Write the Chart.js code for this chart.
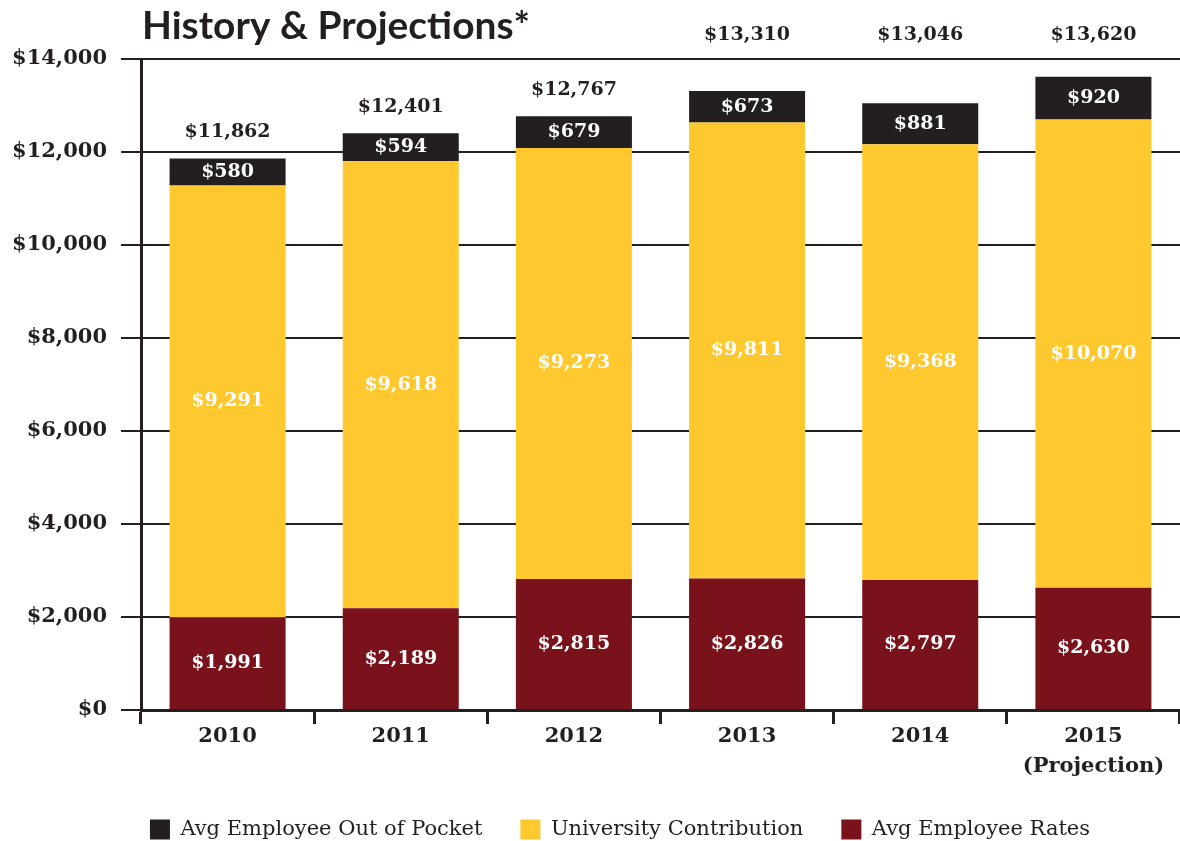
<!DOCTYPE html>
<html>
<head>
<meta charset="utf-8">
<title>History & Projections</title>
<script src="https://cdn.jsdelivr.net/npm/chart.js@4/dist/chart.umd.min.js"></script>
<style>
    html, body { margin: 0; padding: 0; background: #fff; overflow: hidden; }
    #grafico { display: block; }
</style>
</head>
<body>
<canvas id="grafico" width="1180" height="841"></canvas>
<script>
var anos = ['2010', '2011', '2012', '2013', '2014', ['2015', '(Projection)']];
var taxasEmpregado = [1991, 2189, 2815, 2826, 2797, 2630];
var contribuicaoUniversidade = [9291, 9618, 9273, 9811, 9368, 10070];
var foraDoBolso = [580, 594, 679, 673, 881, 920];
var totais = [11862, 12401, 12767, 13310, 13046, 13620];
var ticksY = [0, 2000, 4000, 6000, 8000, 10000, 12000, 14000];

var corTexto = '#231f20';
var fonteSerif = '"DejaVu Serif", "Liberation Serif", serif';

function dinheiro(v) {
    return '$' + v.toLocaleString('en-US');
}

// titulo e rotulos dos valores
var rotulos = {
    id: 'rotulos',
    afterLayout: function(chart) {
        // legenda um pouco deslocada para a direita, como no original
        chart.legend.left += 30;
        chart.legend.right += 30;
    },
    afterDraw: function(chart) {
        var ctx = chart.ctx;
        var area = chart.chartArea;

        ctx.save();
        ctx.font = 'bold 36px Lato, "Open Sans", sans-serif';
        ctx.fillStyle = corTexto;
        ctx.textAlign = 'left';
        ctx.textBaseline = 'alphabetic';
        var titulo = 'History & Projections*';
        var largura = ctx.measureText(titulo).width;
        ctx.translate(142, 39);
        ctx.scale(388 / largura, 1.05);
        ctx.fillText(titulo, 0, 0);
        ctx.restore();

        ctx.save();
        ctx.textAlign = 'center';
        ctx.textBaseline = 'middle';
        ctx.font = 'bold 19px ' + fonteSerif;
        chart.data.datasets.forEach(function(ds, i) {
            var meta = chart.getDatasetMeta(i);
            meta.data.forEach(function(barra, j) {
                ctx.fillStyle = '#ffffff';
                ctx.fillText(dinheiro(ds.data[j]), barra.x, (barra.y + barra.base) / 2);
            });
        });

        var topo = chart.getDatasetMeta(chart.data.datasets.length - 1);
        ctx.fillStyle = corTexto;
        topo.data.forEach(function(barra, j) {
            var y = barra.y - 26;
            if (y < area.top + 20) {
                y = area.top - 24;
            }
            ctx.fillText(dinheiro(totais[j]), barra.x, y);
        });
        ctx.restore();
    }
};

var ctx = document.getElementById('grafico').getContext('2d');
var grafico = new Chart(ctx, {
    type: 'bar',
    data: {
        labels: anos,
        datasets: [{
            label: 'Avg Employee Rates',
            backgroundColor: '#7a121c',
            data: taxasEmpregado,
        },
        {
            label: 'University Contribution',
            backgroundColor: '#fec82e',
            data: contribuicaoUniversidade,
        },
        {
            label: 'Avg Employee Out of Pocket',
            backgroundColor: '#231f20',
            data: foraDoBolso,
        }],
    },
    options: {
        responsive: false,
        animation: false,
        layout: {
            padding: { top: 59, right: 0, bottom: -9, left: 0 }
        },
        datasets: {
            bar: { barPercentage: 0.67, categoryPercentage: 1 }
        },
        scales: {
            x: {
                stacked: true,
                afterFit: function(escala) {
                    escala.height = 71;
                },
                grid: {
                    drawOnChartArea: false,
                    drawTicks: true,
                    tickLength: 14,
                    tickWidth: 3,
                    color: corTexto,
                },
                border: { color: corTexto, width: 3 },
                ticks: {
                    color: corTexto,
                    padding: -3,
                    font: { family: fonteSerif, size: 21, weight: 'bold', lineHeight: 1.45 },
                },
            },
            y: {
                stacked: true,
                min: 0,
                max: 14000,
                afterBuildTicks: function(escala) {
                    escala.ticks = ticksY.map(function(v) { return { value: v }; });
                },
                afterFit: function(escala) {
                    escala.width = 141;
                },
                grid: {
                    color: corTexto,
                    lineWidth: 2,
                    tickLength: 20,
                },
                border: { color: corTexto, width: 3 },
                ticks: {
                    color: corTexto,
                    padding: 14,
                    font: { family: fonteSerif, size: 21, weight: 'bold' },
                    callback: function(v) { return dinheiro(v); },
                },
            },
        },
        plugins: {
            legend: {
                position: 'bottom',
                reverse: true,
                labels: {
                    color: corTexto,
                    boxWidth: 20,
                    boxHeight: 20,
                    padding: 38,
                    font: { family: fonteSerif, size: 21 },
                },
            },
            tooltip: { enabled: false },
        },
    },
    plugins: [rotulos],
});
</script>
</body>
</html>
